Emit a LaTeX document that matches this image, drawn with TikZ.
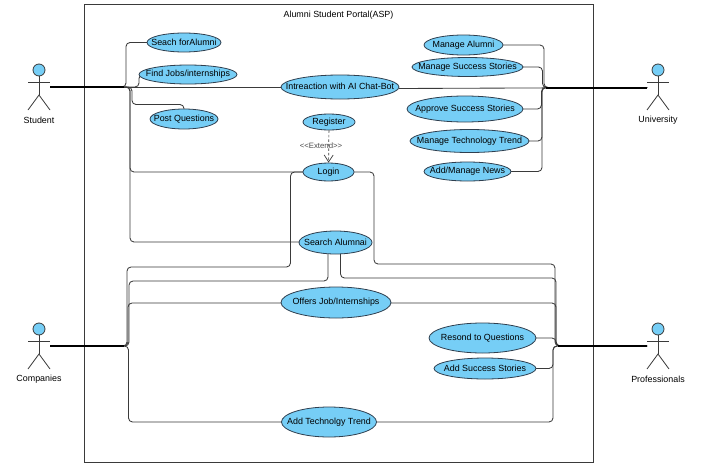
\documentclass[tikz,border=0pt]{standalone}
\usepackage{fontspec}
\setmainfont{Liberation Sans}
\usetikzlibrary{shapes.geometric,arrows.meta}
\definecolor{ucfill}{HTML}{76CEF6}
\definecolor{ucline}{HTML}{2F3F4F}
\definecolor{wire}{HTML}{3A3A3A}
\tikzset{
  uc/.style={ellipse,draw=ucline,line width=0.8pt,fill=ucfill,inner sep=0pt,font=\fontsize{8.9}{10}\selectfont,text=black},
  lab/.style={font=\fontsize{8.9}{10}\selectfont,text=black,inner sep=0pt},
  wirel/.style={draw=wire,line width=0.85pt,rounded corners=4pt},
  trunk/.style={draw=black,line width=2pt},
  actorline/.style={draw=wire,line width=0.8pt},
  actorhead/.style={circle,draw=wire,line width=0.8pt,fill=ucfill,minimum size=12pt,inner sep=0pt},
  boxline/.style={draw=wire,line width=0.9pt}
}
\newcommand{\ucnode}[5]{\node[uc,minimum width=#3pt,minimum height=#4pt] (#1) at (#2) {\makebox[0pt][c]{\raisebox{0.7pt}{#5}}};}
\newcommand{\actorfig}[4]{%
  \node[actorhead] (#1head) at (#2,#3) {};
  \coordinate (#1neck) at (#2,#3+6);
  \coordinate (#1hip) at (#2,#3+25);
  \coordinate (#1la) at (#2-11,#3+12);
  \coordinate (#1ra) at (#2+11,#3+12);
  \coordinate (#1ll) at (#2-11,#3+40);
  \coordinate (#1rl) at (#2+11,#3+40);
  \draw[actorline] (#1head) -- (#1hip);
  \draw[actorline] (#1la) -- (#1ra);
  \draw[actorline] (#1ll) -- (#1hip) -- (#1rl);
  \node[lab] (#1label) at (#2,#3+50) {#4};
}
\begin{document}
\begin{tikzpicture}[x=1pt,y=-1pt]
\useasboundingbox (0,0) rectangle (709,463);
\fill[white] (0,0) rectangle (709,463);
\node[boxline,draw,minimum width=509pt,minimum height=458pt,inner sep=0pt] (system) at (339,233.5) {};
\node[lab] (title) at (338.5,15) {Alumni Student Portal(ASP)};

\coordinate (stuP) at (50,87);
\coordinate (uniP) at (647,87.5);
\coordinate (comP) at (50,346);
\coordinate (proP) at (647,346);
\coordinate (stuJ) at (124,87);
\coordinate (uniJ) at (546,87.5);
\coordinate (comJ) at (124,346);
\coordinate (proJ) at (558,346);

% connectors (under the ellipses)
\draw[wirel] (stuP) -- (126,87) -- (126,42.5) -- (147,42.5);
\draw[wirel] (stuP) -- (139,87) -- (139,74.5) -- (139.5,74.5);
\draw[wirel] (stuP) -- (281,87);
\draw[wirel] (stuP) -- (132,87) -- (132,104.5) -- (184,104.5) -- (184,109);
\draw[wirel] (stuP) -- (130,87) -- (130,172) -- (303,172);
\draw[wirel] (stuP) -- (130,87) -- (130,242) -- (299,242);

\draw[wirel] (503,45) -- (544,45) -- (544,87.5) -- (uniP);
\draw[wirel] (523,67) -- (542.5,67) -- (542.5,87.5) -- (uniP);
\draw[wirel] (399,88.5) -- (uniP);
\draw[wirel] (523,109) -- (541.5,109) -- (541.5,87.5) -- (uniP);
\draw[wirel] (529,141) -- (542,141) -- (542,87.5) -- (uniP);
\draw[wirel] (511,171.5) -- (542,171.5) -- (542,87.5) -- (uniP);

\draw[wirel] (303,172) -- (290.5,172) -- (290.5,267) -- (127,267) -- (127,346) -- (comP);
\draw[wirel] (328,254) -- (328,281) -- (129,281) -- (129,346) -- (comP);
\draw[wirel] (281,303) -- (128,303) -- (128,346) -- (comP);
\draw[wirel] (282,422) -- (128.5,422) -- (128.5,346) -- (comP);

\draw[wirel] (354,172) -- (374,172) -- (374,264) -- (555,264) -- (555,346) -- (proP);
\draw[wirel] (340.5,254) -- (340.5,278) -- (556,278) -- (556,346) -- (proP);
\draw[wirel] (391,303) -- (556,303) -- (556,346) -- (proP);
\draw[wirel] (536,338) -- (556,338) -- (556,346) -- (proP);
\draw[wirel] (536,368.5) -- (553,368.5) -- (553,346) -- (proP);
\draw[wirel] (377,422) -- (553,422) -- (553,346) -- (proP);

\draw[trunk] (stuP) -- (stuJ);
\draw[trunk] (uniP) -- (uniJ);
\draw[trunk] (comP) -- (comJ);
\draw[trunk] (proP) -- (proJ);

\ucnode{seach}{184,42.5}{74}{19}{Seach forAlumni}
\ucnode{find}{188,74.5}{98}{19}{Find Jobs/internships}
\ucnode{chat}{340,87}{118}{24}{Intreaction with AI Chat-Bot}
\ucnode{post}{184,119}{68}{20}{Post Questions}
\ucnode{register}{329,122}{52}{16}{Register}
\ucnode{login}{328.5,172}{51}{18}{Login}
\ucnode{search}{335.5,242.5}{73}{23}{Search Alumnai}
\ucnode{offers}{336,302.5}{110}{31}{Offers Job/Internships}
\ucnode{trend}{329,422}{95}{30}{Add Technolgy Trend}
\ucnode{malumni}{463.5,45}{79}{20}{Manage Alumni}
\ucnode{mstories}{467.5,67}{111}{19}{Manage Success Stories}
\ucnode{approve}{465,109}{116}{26}{Approve Success Stories}
\ucnode{mtrend}{469.5,141}{119}{23}{Manage Technology Trend}
\ucnode{news}{467.5,171.5}{87}{19}{Add/Manage News}
\ucnode{resond}{482.5,338}{107}{30}{Resond to Questions}
\ucnode{addstories}{485,368.5}{102}{21}{Add Success Stories}

\draw[draw=wire,line width=0.7pt,dashed,dash pattern=on 2.5pt off 2pt,-{Straight Barb[length=7pt,width=9pt,line width=0.7pt]}] (register) -- (login);
\node[font=\fontsize{7.8}{9}\selectfont,text=black!70,inner sep=0pt] (extend) at (321,146) {<{}<Extend>{}>};

\actorfig{student}{39}{70}{Student}
\actorfig{university}{658}{70}{University}
\actorfig{companies}{39}{329}{Companies}
\actorfig{professionals}{658}{329}{Professionals}
\end{tikzpicture}
\end{document}
